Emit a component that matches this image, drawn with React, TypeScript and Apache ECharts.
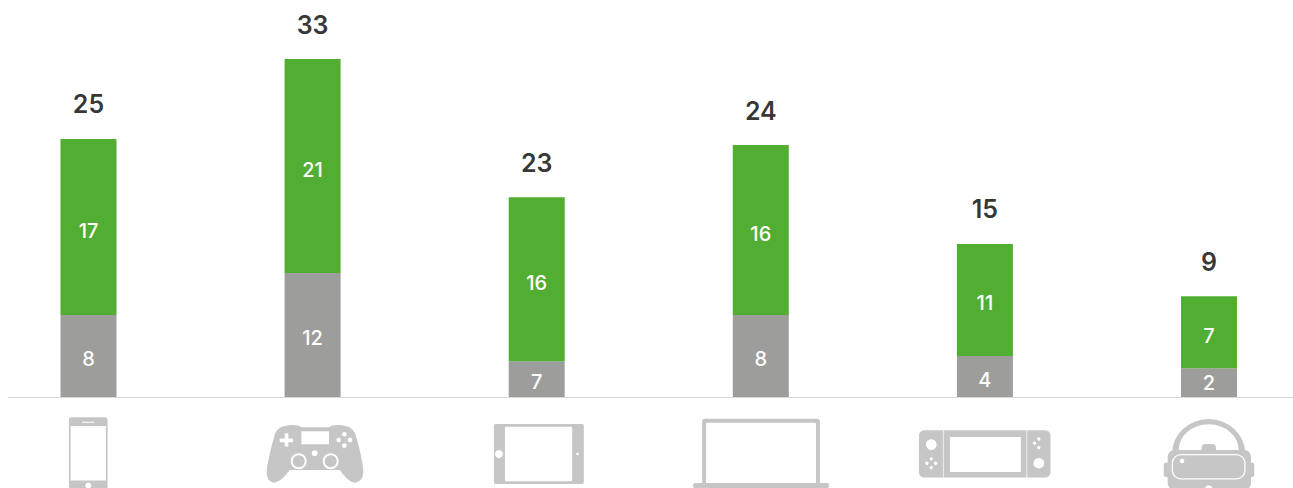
import React, { useEffect, useRef } from "react";
import * as echarts from "echarts";

const categories = ["Smartphone", "Console", "Tablet", "Laptop", "Handheld", "VR"];
// Bar lengths as drawn in the picture (they do not follow the printed numbers exactly)
const greyBars = [8, 12.1, 3.5, 8, 4, 2.8];
const greenBars = [17.2, 20.9, 16, 16.6, 10.95, 7.05];
// Printed numbers
const greyLabels = ["8", "12", "7", "8", "4", "2"];
const greenLabels = ["17", "21", "16", "16", "11", "7"];
const totalLabels = ["25", "33", "23", "24", "15", "9"];

const ICON = "#c6c6c6";
const FONT = "Inter, 'Open Sans', sans-serif";

const r = (x0: number, y0: number, x1: number, y1: number, fill = ICON, rad = 0) => ({
  type: "rect",
  shape: { x: x0, y: y0, width: x1 - x0, height: y1 - y0, r: rad },
  style: { fill },
});
const c = (cx: number, cy: number, rad: number, fill = "#fff") => ({
  type: "circle",
  shape: { cx, cy, r: rad },
  style: { fill },
});
const icon = (ox: number, children: any[]) => ({
  type: "group",
  x: ox,
  y: 390,
  scaleX: 1 / 3,
  scaleY: 1 / 3,
  children,
});

echarts.graphic.registerShape(
  "gamepadBody",
  echarts.graphic.extendPath(
    "M855 108 Q875 103 897 107 L905 112 L988 112 L996 107 Q1018 103 1038 108 Q1060 112 1068 135 Q1085 190 1091 240 Q1092 278 1062 278 Q1045 275 1020 240 L870 240 Q845 275 825 278 Q800 278 801 240 Q808 190 825 135 Q832 112 855 108 Z",
    {}
  )
);
echarts.graphic.registerShape(
  "vrOuter",
  echarts.graphic.extendPath("M898 192 A110 105 0 0 1 1118 192 Z", {})
);
echarts.graphic.registerShape(
  "vrInner",
  echarts.graphic.extendPath("M918 180 A90 77 0 0 1 1098 180 Z", {})
);

const icons = [
  icon(0, [
    r(207, 82, 323, 300, ICON, 9),
    r(212, 108, 318, 272, "#fff"),
    r(246, 95, 284, 98, "#fff", 1),
    c(265, 287, 9),
  ]),
  icon(0, [
    { type: "gamepadBody", style: { fill: ICON } },
    r(905, 124, 988, 163, "#fff"),
    r(840, 146, 880, 157, "#fff", 2),
    r(855, 130, 866, 170, "#fff", 2),
    c(1034, 133, 7),
    c(1034, 167, 7),
    c(1017, 150, 7),
    c(1051, 150, 7),
    c(945, 190, 9),
    c(897, 214, 24),
    c(897, 214, 18, ICON),
    c(993, 214, 24),
    c(993, 214, 18, ICON),
  ]),
  icon(440, [
    r(162, 102, 432, 282, ICON, 5),
    r(195, 110, 397, 274, "#fff", 3),
    c(177, 192, 12),
    c(413, 192, 4),
  ]),
  icon(440, [
    r(787, 86, 1141, 285, ICON, 9),
    r(799, 98, 1129, 282, "#fff", 3),
    r(760, 279, 1168, 294, ICON, 5),
  ]),
  icon(873, [
    r(138, 121, 533, 263, ICON, 16),
    r(231, 141, 444, 246, "#fff"),
    r(210, 121, 212, 263, "#fff"),
    r(461, 121, 463, 263, "#fff"),
    c(175, 164, 16),
    c(498, 220, 16),
    c(175, 207, 5),
    c(175, 233, 5),
    c(162, 220, 5),
    c(188, 220, 5),
    c(498, 147, 5),
    c(498, 173, 5),
    c(485, 160, 5),
  ]),
  icon(873, [
    { type: "vrOuter", style: { fill: ICON } },
    { type: "vrInner", style: { fill: "#fff" } },
    r(987, 162, 1030, 190, ICON, 12),
    r(885, 180, 1135, 300, ICON, 20),
    r(873, 218, 1145, 262, ICON, 8),
    r(897, 192, 1119, 269, "#fff", 28),
    r(901, 196, 1115, 265, ICON, 24),
    c(928, 213, 7),
    c(1008, 297, 11),
  ]),
];

export default function App() {
  const ref = useRef<HTMLDivElement>(null);
  useEffect(() => {
    const chart = echarts.init(ref.current!, undefined, { renderer: "svg" });
    const inner = (labels: string[], dy: number) => ({
      show: true,
      position: "inside" as const,
      offset: [0, dy],
      color: "#fff",
      fontFamily: FONT,
      fontSize: 20,
      fontWeight: 500,
      formatter: (p: any) => labels[p.dataIndex],
    });
    chart.setOption({
      animation: false,
      grid: { left: -23.55, top: 0, width: 1344.6, height: 397, outerBoundsMode: "none" },
      xAxis: {
        type: "category",
        data: categories,
        axisLine: { show: false },
        axisTick: { show: false },
        axisLabel: { show: false },
      },
      yAxis: { type: "value", min: 0, max: 38.77, show: false, splitLine: { show: false } },
      series: [
        {
          type: "bar",
          stack: "a",
          barWidth: 56,
          data: greyBars.map((v, i) => (i === 5 ? { value: v, label: { offset: [0, 0] } } : v)),
          itemStyle: { color: "#9d9d9c" },
          label: inner(greyLabels, 3),
        },
        {
          type: "bar",
          stack: "a",
          barWidth: 56,
          data: greenBars,
          itemStyle: { color: "#52ae32" },
          label: inner(greenLabels, 3.5),
        },
        {
          type: "scatter",
          symbolSize: 1,
          itemStyle: { color: "transparent" },
          data: greyBars.map((g, i) => g + greenBars[i]),
          label: {
            show: true,
            position: "top",
            distance: 21.5,
            color: "#000",
            fontFamily: FONT,
            fontSize: 25,
            fontWeight: 600,
            formatter: (p: any) => totalLabels[p.dataIndex],
          },
        },
      ],
      graphic: [
        {
          type: "line",
          shape: { x1: 8, y1: 397.5, x2: 1293, y2: 397.5 },
          style: { stroke: "#d9d9d9", lineWidth: 1 },
        },
        ...icons,
      ],
    });
    return () => chart.dispose();
  }, []);
  return (
    <div
      ref={ref}
      style={{ position: "fixed", left: 0, top: 0, width: 1293, height: 488, background: "#fff" }}
    />
  );
}
